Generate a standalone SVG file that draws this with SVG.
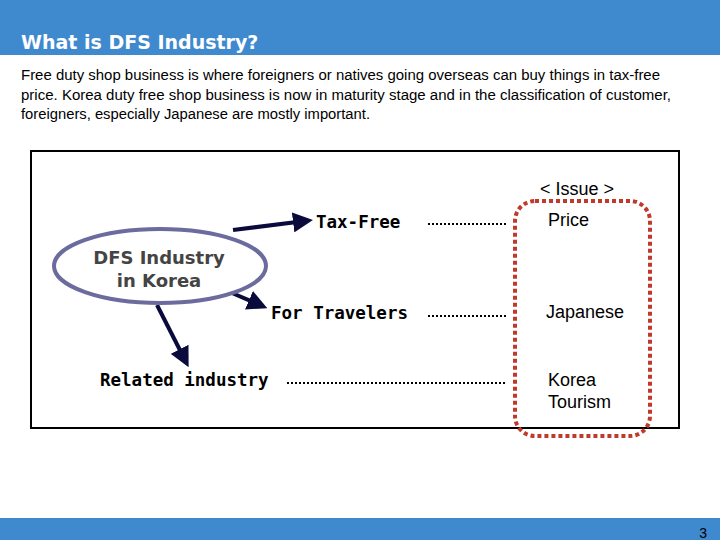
<svg xmlns="http://www.w3.org/2000/svg" width="720" height="540" viewBox="0 0 720 540">
<style>
.mono{font-family:"DejaVu Sans Mono","Liberation Mono",monospace;font-size:17.5px;font-weight:bold;fill:#000}
.iss{font-family:"Liberation Sans",Arial,sans-serif;font-size:18px;fill:#000}
.dot{stroke:#000;stroke-width:2;stroke-dasharray:2 2;fill:none}
.arr{stroke:#0a0a3c;stroke-width:4;fill:none;marker-end:url(#ah)}
</style>
<defs><marker id="ah" markerWidth="5" markerHeight="5" refX="3" refY="2.5" orient="auto"><path d="M0,0 L5,2.5 L0,5 z" fill="#0a0a3c"/></marker></defs>
<rect width="720" height="540" fill="#fff"/>
<rect x="0" y="0" width="720" height="55" fill="#3f89cf"/>
<text x="21" y="49" font-family="Verdana,'DejaVu Sans',sans-serif" font-weight="bold" font-size="19" fill="#fff">What is DFS Industry?</text>
<g font-family="'Liberation Sans',Arial,sans-serif" font-size="14" fill="#000">
<text x="21" y="80" textLength="639" lengthAdjust="spacingAndGlyphs">Free duty shop business is where foreigners or natives going overseas can buy things in tax-free</text>
<text x="21" y="100" textLength="650" lengthAdjust="spacingAndGlyphs">price. Korea duty free shop business is now in maturity stage and in the classification of customer,</text>
<text x="21" y="119" textLength="349" lengthAdjust="spacingAndGlyphs">foreigners, especially Japanese are mostly important.</text>
</g>
<rect x="31" y="151" width="648" height="277" fill="none" stroke="#000" stroke-width="2"/>
<g id="connectors">
<path class="arr" d="M233,230 L305,221"/>
<path class="arr" d="M232,293 L260,305"/>
<path class="arr" d="M157,305 L185,360"/>
<path class="dot" d="M428,224 H508"/>
<path class="dot" d="M428,316 H508"/>
<path class="dot" d="M287,383 H506"/>
</g>
<g id="dfs">
<ellipse cx="160" cy="266" rx="106" ry="37" fill="#fff" stroke="#6b6b9e" stroke-width="4"/>
<text x="159" y="264" text-anchor="middle" font-family="Verdana,'DejaVu Sans',sans-serif" font-weight="bold" font-size="18" fill="#444">DFS Industry</text>
<text x="159" y="287" text-anchor="middle" font-family="Verdana,'DejaVu Sans',sans-serif" font-weight="bold" font-size="18" fill="#444">in Korea</text>
</g>
<g id="taxfree"><text class="mono" x="316" y="228">Tax-Free</text></g>
<g id="travelers"><text class="mono" x="271" y="319">For Travelers</text></g>
<g id="related"><text class="mono" x="100" y="386">Related industry</text></g>
<g id="issue">
<rect x="515" y="201" width="135" height="235" rx="20" fill="none" stroke="#c0392b" stroke-width="4" stroke-dasharray="4 3"/>
<text class="iss" x="577" y="195" text-anchor="middle">&lt; Issue &gt;</text>
<text class="iss" x="548" y="226">Price</text>
<text class="iss" x="546" y="318">Japanese</text>
<text class="iss" x="548" y="386">Korea</text>
<text class="iss" x="548" y="408">Tourism</text>
</g>
<rect x="0" y="518" width="720" height="22" fill="#3f89cf"/>
<text x="707" y="538" text-anchor="end" font-family="'Liberation Sans',Arial,sans-serif" font-size="14" fill="#000">3</text>
</svg>
